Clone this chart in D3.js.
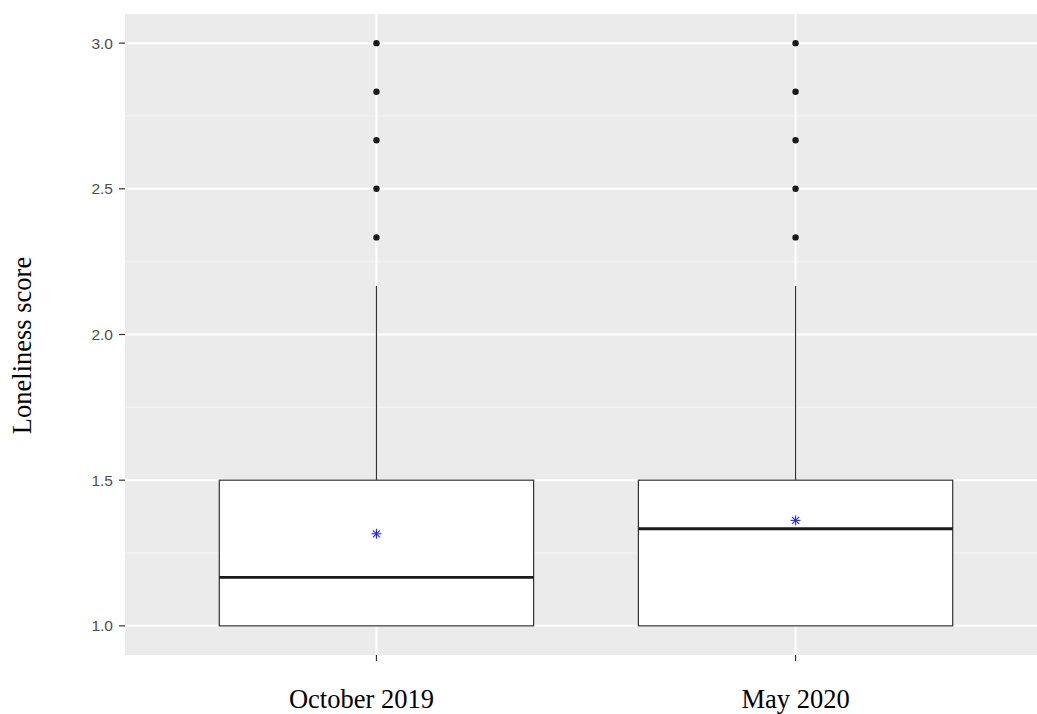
<!DOCTYPE html>
<html>
<head>
<meta charset="utf-8">
<script src="https://cdn.jsdelivr.net/npm/d3@7"></script>
<style>
  html, body { margin: 0; padding: 0; background: #fff; }
  svg { display: block; }
</style>
</head>
<body>
<svg id="chart" width="1037" height="714"></svg>
<script>
// Loneliness score distribution per survey wave
const categories = ["October 2019", "May 2020"];
const q1Values = [1.0, 1.0];
const medianValues = [1.1667, 1.3333];
const q3Values = [1.5, 1.5];
const whiskerLow = [1.0, 1.0];
const whiskerHigh = [2.1667, 2.1667];
const meanValues = [1.316, 1.362];
const outlierValues = [
  [2.3333, 2.5, 2.6667, 2.8333, 3.0],
  [2.3333, 2.5, 2.6667, 2.8333, 3.0]
];
const yTicks = [1.0, 1.5, 2.0, 2.5, 3.0];
const yMinor = [1.25, 1.75, 2.25, 2.75];
const yTitle = "Loneliness score";

const svg = d3.select("#chart");
const panel = { left: 125, top: 14, right: 1047, bottom: 655 };
// horizontal nudge of each category label under its tick
const labelShift = [-15, 0];

const y = d3.scaleLinear().domain([0.9, 3.1]).range([panel.bottom, panel.top]);
// discrete positions with ggplot-style 0.6 expansion on each side
const xPos = d3.scaleLinear().domain([0.4, 2.6]).range([panel.left, panel.right]);
const unit = xPos(1) - xPos(0);
const boxW = 0.75 * unit;

const clipId = "panelClip";
svg.append("defs").append("clipPath").attr("id", clipId)
  .append("rect").attr("x", panel.left).attr("y", panel.top)
  .attr("width", panel.right - panel.left).attr("height", panel.bottom - panel.top);

const g = svg.append("g").attr("clip-path", `url(#${clipId})`);

g.append("rect")
  .attr("x", panel.left).attr("y", panel.top)
  .attr("width", panel.right - panel.left).attr("height", panel.bottom - panel.top)
  .attr("fill", "#ebebeb");

// minor grid
g.selectAll("line.minor").data(yMinor).join("line")
  .attr("x1", panel.left).attr("x2", panel.right)
  .attr("y1", d => y(d)).attr("y2", d => y(d))
  .attr("stroke", "#f5f5f5").attr("stroke-width", 1);

// major grid
g.selectAll("line.major").data(yTicks).join("line")
  .attr("x1", panel.left).attr("x2", panel.right)
  .attr("y1", d => y(d)).attr("y2", d => y(d))
  .attr("stroke", "#ffffff").attr("stroke-width", 2);

g.selectAll("line.vmajor").data(categories).join("line")
  .attr("x1", (d, i) => xPos(i + 1)).attr("x2", (d, i) => xPos(i + 1))
  .attr("y1", panel.top).attr("y2", panel.bottom)
  .attr("stroke", "#ffffff").attr("stroke-width", 2);

// boxes
categories.forEach((c, i) => {
  const cx = xPos(i + 1);
  const bg = g.append("g");
  bg.append("line")
    .attr("x1", cx).attr("x2", cx)
    .attr("y1", y(q3Values[i])).attr("y2", y(whiskerHigh[i]))
    .attr("stroke", "#333").attr("stroke-width", 1.2);
  bg.append("line")
    .attr("x1", cx).attr("x2", cx)
    .attr("y1", y(q1Values[i])).attr("y2", y(whiskerLow[i]))
    .attr("stroke", "#333").attr("stroke-width", 1.2);
  bg.append("rect")
    .attr("x", cx - boxW / 2).attr("width", boxW)
    .attr("y", y(q3Values[i])).attr("height", y(q1Values[i]) - y(q3Values[i]))
    .attr("fill", "#ffffff").attr("stroke", "#333").attr("stroke-width", 1.2);
  bg.append("line")
    .attr("x1", cx - boxW / 2).attr("x2", cx + boxW / 2)
    .attr("y1", y(medianValues[i])).attr("y2", y(medianValues[i]))
    .attr("stroke", "#1a1a1a").attr("stroke-width", 2.8);
  bg.selectAll("circle").data(outlierValues[i]).join("circle")
    .attr("cx", cx).attr("cy", d => y(d)).attr("r", 3.2)
    .attr("fill", "#1a1a1a");
  // mean marker: asterisk
  const my = y(meanValues[i]);
  const s = 5;
  const star = bg.append("g").attr("stroke", "#2626ff").attr("stroke-width", 1.1);
  [[0, s], [s, 0], [s * 0.7, s * 0.7], [s * 0.7, -s * 0.7]].forEach(([dx, dy]) => {
    star.append("line")
      .attr("x1", cx - dx).attr("y1", my - dy)
      .attr("x2", cx + dx).attr("y2", my + dy);
  });
});

// y axis ticks and labels
const yAxis = svg.append("g");
yAxis.selectAll("line").data(yTicks).join("line")
  .attr("x1", panel.left - 6).attr("x2", panel.left)
  .attr("y1", d => y(d)).attr("y2", d => y(d))
  .attr("stroke", "#333").attr("stroke-width", 1.2);
yAxis.selectAll("text").data(yTicks).join("text")
  .attr("x", panel.left - 12).attr("y", d => y(d))
  .attr("dy", "0.35em").attr("text-anchor", "end")
  .attr("font-family", "Liberation Sans, Arial, sans-serif")
  .attr("font-size", 15.5).attr("fill", "#4d4d4d")
  .text(d => d3.format(".1f")(d));

// x axis ticks and labels
const xAxis = svg.append("g");
xAxis.selectAll("line").data(categories).join("line")
  .attr("x1", (d, i) => xPos(i + 1)).attr("x2", (d, i) => xPos(i + 1))
  .attr("y1", panel.bottom).attr("y2", panel.bottom + 6)
  .attr("stroke", "#333").attr("stroke-width", 1.2);
xAxis.selectAll("text").data(categories).join("text")
  .attr("x", (d, i) => xPos(i + 1) + labelShift[i]).attr("y", 708)
  .attr("text-anchor", "middle")
  .attr("font-family", "Liberation Serif, Times New Roman, serif")
  .attr("font-size", 26.5).attr("fill", "#000")
  .text(d => d);

// y title
svg.append("text")
  .attr("transform", `translate(31, ${(panel.top + panel.bottom) / 2 + 11}) rotate(-90)`)
  .attr("text-anchor", "middle")
  .attr("font-family", "Liberation Serif, Times New Roman, serif")
  .attr("font-size", 26.5).attr("fill", "#000")
  .text(yTitle);
</script>
</body>
</html>
